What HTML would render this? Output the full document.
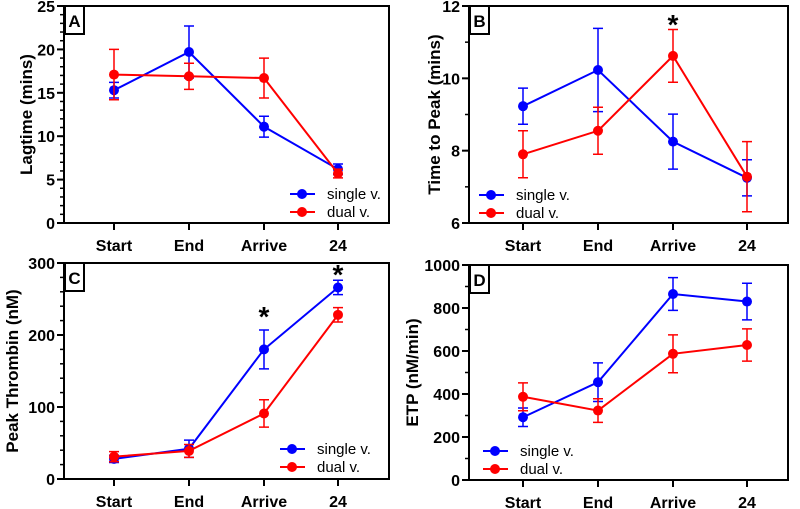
<!DOCTYPE html>
<html><head><meta charset="utf-8"><style>
html,body{margin:0;padding:0;background:#fff;}
svg{display:block;font-family:"Liberation Sans",Arial,sans-serif;}
</style></head><body>
<svg id="fig" width="800" height="509" viewBox="0 0 800 509" xmlns="http://www.w3.org/2000/svg"></svg>
<script>
const categories = ["Start","End","Arrive","24"];
const aSingle = [15.3,19.7,11.1,6.2];   const aSingleErr = [0.9,3.0,1.2,0.6];
const aDual   = [17.1,16.9,16.7,5.7];   const aDualErr   = [2.9,1.5,2.3,0.5];
const bSingle = [9.23,10.23,8.25,7.25]; const bSingleErr = [0.5,1.15,0.76,0.5];
const bDual   = [7.9,8.55,10.62,7.28];  const bDualErr   = [0.65,0.65,0.73,0.97];
const cSingle = [28,42,180,266];        const cSingleErr = [5,12,27,10];
const cDual   = [31,39,91,228];         const cDualErr   = [7,9,19,10];
const dSingle = [292,455,865,830];      const dSingleErr = [43,90,76,85];
const dDual   = [387,323,587,628];      const dDualErr   = [65,55,88,75];
const aTicks = [0,5,10,15,20,25];
const bTicks = [6,8,10,12];
const cTicks = [0,100,200,300];
const dTicks = [0,200,400,600,800,1000];

const NS="http://www.w3.org/2000/svg";
const svg=document.getElementById('fig');
function mk(tag,attrs,parent){const e=document.createElementNS(NS,tag);for(const k in attrs)e.setAttribute(k,attrs[k]);(parent||svg).appendChild(e);return e;}

function panel(p){
  const g=mk('g',{});
  
  
  const y=v=>p.y0-(p.y0-p.y1)*(v-p.min)/(p.max-p.min);
  const x=i=>p.xs[i];
  const fr=mk('rect',{x:p.x0,y:p.y1,width:p.x1-p.x0,height:p.y0-p.y1,fill:'none',stroke:'#000','stroke-width':2},g);
  
  
  for(let v=p.min;v<=p.max+1e-9;v+=p.minor){
    mk('line',{x1:p.x0-4,x2:p.x0,y1:y(v),y2:y(v),stroke:'#000','stroke-width':1.5},g);
  }
  p.ticks.forEach(v=>{
    mk('line',{x1:p.x0-7,x2:p.x0,y1:y(v),y2:y(v),stroke:'#000','stroke-width':2},g);
    const t=mk('text',{x:p.x0-9,y:y(v)+6,'text-anchor':'end','font-size':16,'font-weight':'bold'},g);
    t.textContent=v;
    
    
  });
  categories.forEach((c,i)=>{
    mk('line',{x1:x(i),x2:x(i),y1:p.y0,y2:p.y0+7,stroke:'#000','stroke-width':2},g);
    const t=mk('text',{x:x(i),y:p.y0+28,'text-anchor':'middle','font-size':16,'font-weight':'bold'},g);
    t.textContent=c;
    
    
  });
  const cy=(p.y0+p.y1)/2;
  const yt=mk('text',{x:p.tx,y:cy,'text-anchor':'middle','font-size':17,'font-weight':'bold',transform:`rotate(-90 ${p.tx} ${cy})`},g);
  yt.textContent=p.title;
  
  
  const lb=mk('rect',{x:p.x0+1,y:p.y1,width:19,height:28,fill:'#fff',stroke:'#000','stroke-width':2},g);
  
  
  const lt=mk('text',{x:p.x0+10.5,y:p.y1+21,'text-anchor':'middle','font-size':17,'font-weight':'bold'},g);
  lt.textContent=p.letter;
  
  
  const series=[[p.s,p.se,'#0000ff','single'],[p.d,p.de,'#ff0000','dual']];
  series.forEach(([vals,errs,col,nm])=>{
    const sg=mk('g',{},g);
    
    
    vals.forEach((v,i)=>{
      const eb=mk('path',{d:`M${x(i)} ${y(v-errs[i])}V${y(v+errs[i])}M${x(i)-5} ${y(v-errs[i])}h10M${x(i)-5} ${y(v+errs[i])}h10`,stroke:col,'stroke-width':1.5,fill:'none'},sg);
      
      
    });
    const ln=mk('polyline',{points:vals.map((v,i)=>x(i)+','+y(v)).join(' '),fill:'none',stroke:col,'stroke-width':2},sg);
    
    
    vals.forEach((v,i)=>{
      const c=mk('circle',{cx:x(i),cy:y(v),r:5,fill:col},sg);
      
      
    });
  });
  const lg=mk('g',{},g);
  
  
  [['single v.','#0000ff'],['dual v.','#ff0000']].forEach(([lab,col],k)=>{
    const ly=p.ly+k*18;
    const e=mk('g',{},lg);
    
    
    mk('line',{x1:p.lx,x2:p.lx+25,y1:ly,y2:ly,stroke:col,'stroke-width':2},e);
    mk('circle',{cx:p.lx+12,cy:ly,r:5,fill:col},e);
    const t=mk('text',{x:p.lx+37,y:ly+5,'font-size':15},e);
    t.textContent=lab;
  });
  (p.stars||[]).forEach(([i,sy])=>{
    const t=mk('text',{x:x(i),y:sy,'text-anchor':'middle','font-size':28,'font-weight':'bold'},g);
    t.textContent='*';
    
    
  });
}
const xl=[114,189,264,338], xr=[523,598,673,747];
panel({letter:'A',x0:64,x1:389,y0:223,y1:6,min:0,max:25,minor:1,ticks:aTicks,xs:xl,tx:32,title:'Lagtime (mins)',s:aSingle,se:aSingleErr,d:aDual,de:aDualErr,lx:290,ly:194});
panel({letter:'B',x0:469,x1:788,y0:223,y1:6,min:6,max:12,minor:1,ticks:bTicks,xs:xr,tx:440,title:'Time to Peak (mins)',s:bSingle,se:bSingleErr,d:bDual,de:bDualErr,lx:479,ly:195,stars:[[2,34]]});
panel({letter:'C',x0:64,x1:389,y0:479,y1:263,min:0,max:300,minor:20,ticks:cTicks,xs:xl,tx:18,title:'Peak Thrombin (nM)',s:cSingle,se:cSingleErr,d:cDual,de:cDualErr,lx:280,ly:449,stars:[[2,326],[3,284]]});
panel({letter:'D',x0:469,x1:788,y0:480,y1:265,min:0,max:1000,minor:100,ticks:dTicks,xs:xr,tx:418,title:'ETP (nM/min)',s:dSingle,se:dSingleErr,d:dDual,de:dDualErr,lx:483,ly:451});
</script>
</body></html>
